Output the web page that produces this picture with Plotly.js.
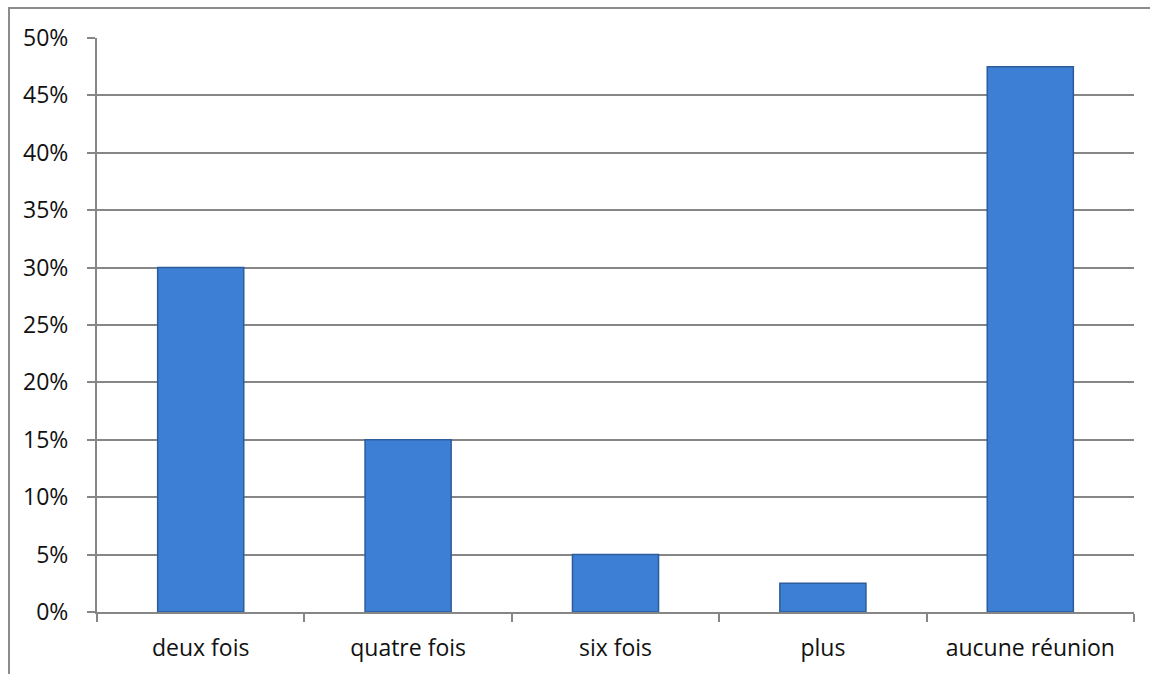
<!DOCTYPE html>
<html>
<head>
<meta charset="utf-8">
<script src="https://cdn.plot.ly/plotly-3.0.1.min.js"></script>
<style>
html,body{margin:0;padding:0;background:#fff;}
#frame{position:absolute;left:8px;top:7px;width:1150px;height:680px;border-left:2px solid #8c8c8c;border-top:2px solid #8c8c8c;}
#chart{position:absolute;left:0;top:0;width:1150px;height:674px;}
</style>
</head>
<body>
<div id="frame"></div>
<div id="chart"></div>
<script>
const categories = ["deux fois", "quatre fois", "six fois", "plus", "aucune réunion"];
const values = [0.30, 0.15, 0.05, 0.025, 0.475];

const trace = {
  type: "bar",
  x: categories,
  y: values,
  width: 0.415,
  marker: {color: "#3c7fd4", line: {color: "#2c5c9c", width: 1.5}},
  hoverinfo: "x+y"
};

const layout = {
  width: 1150, height: 674,
  margin: {l: 97, r: 16, t: 38, b: 62},
  paper_bgcolor: "rgba(0,0,0,0)",
  plot_bgcolor: "rgba(0,0,0,0)",
  showlegend: false,
  font: {family: "Open Sans, Liberation Sans, Arial, sans-serif", size: 23, color: "#111"},
  xaxis: {
    showline: true, linecolor: "#868686", linewidth: 2,
    ticks: "outside", ticklen: 8, tickcolor: "#868686", tickwidth: 2,
    tickson: "boundaries",
    ticklabelstandoff: 14,
    showgrid: false, zeroline: false,
    tickfont: {size: 23}
  },
  yaxis: {
    range: [0, 0.5],
    dtick: 0.05,
    tickformat: ".0%",
    showline: true, linecolor: "#868686", linewidth: 2,
    ticks: "outside", ticklen: 8, tickcolor: "#868686", tickwidth: 2,
    ticklabelstandoff: 14,
    showgrid: true, gridcolor: "#868686", gridwidth: 2,
    zeroline: false,
    tickfont: {size: 23}
  }
};

Plotly.newPlot("chart", [trace], layout, {displayModeBar: false, staticPlot: true});
</script>
</body>
</html>
